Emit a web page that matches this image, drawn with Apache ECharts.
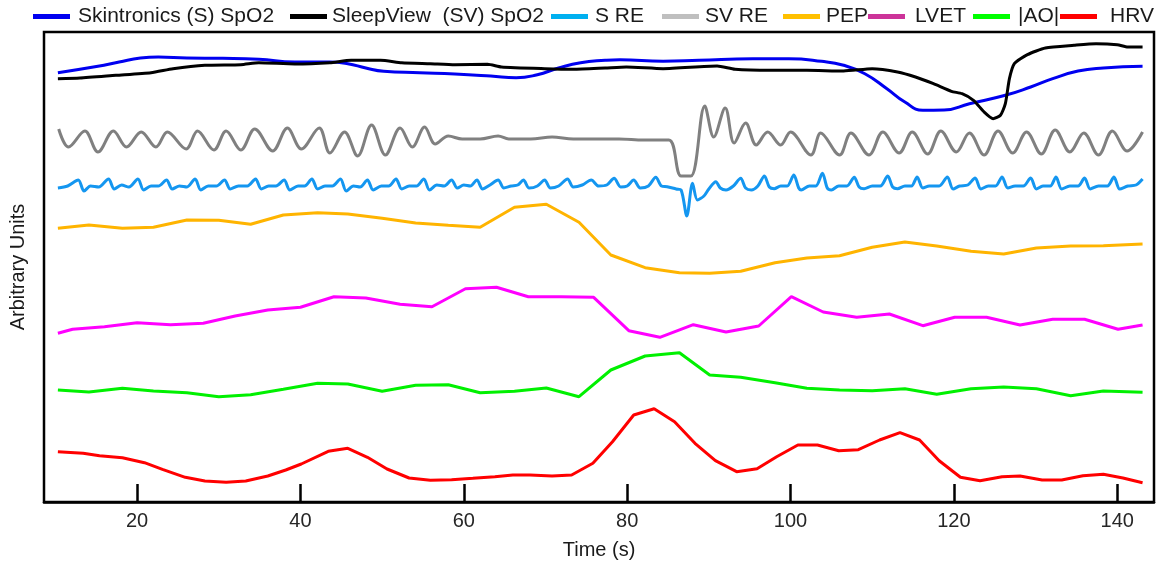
<!DOCTYPE html>
<html>
<head>
<meta charset="utf-8">
<title>Skintronics vs SleepView</title>
<script src="https://cdn.jsdelivr.net/npm/echarts@6/dist/echarts.min.js"></script>
<style>
  html, body { margin: 0; padding: 0; background: #fff; }
  #chart { width: 1159px; height: 567px; }
</style>
</head>
<body>
<div id="chart"></div>
<script>
// Time axis (s) tick labels
const timeTicks = [20, 40, 60, 80, 100, 120, 140];

// Series names (legend order)
const names = ['Skintronics (S) SpO2', 'SleepView  (SV) SpO2', 'S RE', 'SV RE', 'PEP', 'LVET', '|AO|', 'HRV'];

// SpO2 traces (arbitrary units, stacked offsets)
const sSpo2T = [10.3, 15.2, 17.8, 20.4, 22.6, 26.1, 30.5, 34.9, 39.3, 43.6, 45.8, 48, 50.2, 54.6, 58.9, 63.3, 66.4, 69, 71.6, 74.3, 77.3,
  79.1, 84.4, 88.8, 95.4, 99.8, 103.8, 106.5, 109.1, 111.8, 114, 116.2, 118.8, 121.9, 126.3, 129.4, 132.1, 135.2, 138.3, 143.1];
const sSpo2V = [429.3, 435.7, 440, 444, 445, 444, 443.7, 442.7, 440, 440, 438.3, 434, 430.7, 429.3, 428, 426, 424.3, 427.3, 434, 439.3, 441.7,
  442.3, 440.7, 441.7, 443.3, 443.3, 440.7, 436.7, 428.3, 413.3, 400, 391.7, 392, 398.3, 406.7, 415, 423.3, 431, 434, 435.7];

const svSpo2T = [10.3, 13, 17.4, 21.7, 24.4, 28.3, 32.7, 34.9, 39.3, 43.6, 46.2, 49.8, 52.4, 55.9, 58.9, 62.9, 64.6, 69.9, 73.4, 77.3,
  79.9, 84.4, 91, 93.2, 97.6, 102, 106.5, 110, 113.1, 115.3, 117.5, 119.7, 121, 122.4, 123.7, 124.8, 125.7, 126.3, 126.8, 127.4, 129, 131.2, 134.7, 137.4, 140, 141.3, 143.1];
const svSpo2V = [423.3, 424, 426.7, 429.3, 433.3, 436.7, 437.3, 439.3, 438, 439.3, 441.7, 441.7, 439.3, 438.3, 437.3, 437.7, 435, 433.3, 432.7, 434,
  435, 433.3, 436, 432.7, 431.7, 431.7, 431, 433.3, 430, 425, 418.3, 410.7, 408.3, 401.7, 390, 383.3, 386.7, 398.3, 423.3, 438.3, 447.3, 454, 456.7, 458.3, 457.3, 455, 455];

// Respiratory effort traces [t, value]
const svRe = [[10.4,373],[11.6,355],[13.6,371],[15.2,350],[17.1,371],[18.7,355],[20.5,370],[22.3,355],[23.7,370],[26,353],[27.4,371],[29.4,352],
  [30.9,371],[32.7,352],[34.4,373],[36.6,351],[38.4,374],[40.1,353],[42.3,374],[43.6,349],[45.4,370],[47,346],[48.7,377],[50.4,347],[52.2,374],
  [53.7,355],[55.2,375],[56.5,358],[58.1,366],[59.8,363],[62,363],[64.2,366],[65.5,363],[68.2,363],[70.8,365],[73.4,363],[76,363],[79,363],
  [82,362],[85.1,362],[86.6,326],[87.8,326],[89.5,396],[90.6,365],[92,394],[93.1,359],[94.5,379],[95.8,357],[97.2,370],[98.8,357],[100,370],
  [102.5,347],[103.7,369],[106,347],[107.4,369],[109.6,347],[111.3,370],[113.3,349],[114.9,370],[116.8,348],[118.4,371],[120.3,350],[121.9,369],
  [123.7,347],[125.4,371],[127.2,349],[128.9,370],[130.7,348],[132.4,372],[134.2,350],[135.9,369],[137.7,347],[139.4,371],[141.2,351],[143.1,370]];

const sRe = [[10.3,314],[11.5,316],[12.8,322],[13.5,311],[14.3,316],[15.3,315],[16.5,323],[17.2,313],[18.1,317],[19,315],[20.1,323],[20.8,312],
  [21.7,316],[22.6,316],[23.6,322],[24.3,313],[25.2,316],[26.1,315],[27.1,323],[27.8,312],[28.7,316],[29.7,316],[30.7,322],[31.4,313],[32.4,316],
  [33.5,316],[34.5,323],[35.2,313],[36.1,316],[37,316],[38,322],[38.7,312],[39.7,316],[40.5,316],[41.4,323],[42.1,313],[43,316],[43.9,316],
  [44.9,323],[45.6,311],[46.5,316],[47.3,315],[48.2,322],[48.9,312],[49.9,316],[50.8,316],[51.7,323],[52.4,313],[53.3,316],[54.2,316],[55.1,323],
  [55.8,312],[56.7,317],[57.6,316],[58.5,322],[59.2,314],[60,317],[60.8,316],[61.6,322],[62.3,313],[63.2,317],[64.2,322],[64.9,314],[65.8,316],
  [66.6,317],[67.3,322],[68,314],[69,316],[69.9,322],[70.6,314],[71.6,316],[72.7,323],[73.4,315],[74.5,317],[75.6,322],[76.5,316],[77.5,317],
  [78.4,323.7],[79.2,315],[80,316],[80.8,322],[81.6,314],[82.6,316],[83.5,324.7],[84.2,316],[84.9,315.3],[86,313],[86.6,312],[87.3,286],[88,318.7],
  [88.6,302],[89.4,306],[90,313],[90.85,320.3],[91.4,314],[92.1,312],[93,316],[93.9,323.7],[94.5,314],[95.2,312],[96,316],[96.8,326],[97.4,315],
  [98,313.3],[98.8,316],[99.6,316],[100.4,327],[101,314],[101.3,312],[102.3,316],[103.1,316],[103.9,328.7],[104.5,314],[105,312],[105.9,316],
  [106.9,316],[107.8,324.7],[108.4,315],[109,313.3],[110,316],[111,316],[111.9,326],[112.5,315],[113.1,313.3],[114,316],[114.8,316],[115.5,325],
  [116.2,314],[117,316],[118.2,316],[119.2,325],[119.9,313],[120.7,316],[121.7,317],[122.6,324],[123.3,313],[124.2,316],[125.1,316],[125.9,325],
  [126.6,314],[127.5,316],[128.5,316],[129.4,324],[130.1,313],[130.9,316],[131.8,316],[132.5,325],[133.2,313],[134.2,316],[135.2,316],[136,324],
  [136.7,313],[137.7,316],[138.8,316],[139.6,325],[140.3,313],[141.3,316],[142.3,317],[143.1,323]];

// Cardiac interval traces
const pepT = [10.3, 14.1, 18.2, 22, 26.1, 30, 33.9, 37.9, 42.1, 45.8, 50, 54.1, 58.1, 62, 66.2, 70.1, 74.1,
  78, 82.2, 86.4, 90.1, 93.9, 98.1, 102, 106, 110, 114, 117.9, 122.1, 126.1, 130.1, 134.3, 138.3, 143.1];
const pepV = [273.7, 277, 273.7, 274.7, 282, 281.7, 277.7, 287, 289.3, 288, 283.7, 279, 276.7, 274.7, 294.7, 297.7, 279.7,
  247, 234.3, 229.3, 228.7, 230.7, 239.3, 244, 246.3, 254.7, 260, 256, 250.7, 248, 254, 256, 256.3, 258];

const lvetT = [10.3, 12.1, 16, 20, 24.1, 28.1, 32, 36, 40, 44.1, 48, 52.2, 56.1, 60.2, 64, 67.9, 71.9, 75.9,
  80.2, 84, 88.1, 92.1, 96.1, 100.1, 104, 108.1, 112.1, 116.2, 120.1, 124, 128.1, 132.1, 136, 140.1, 143.1];
const lvetV = [168.7, 172.7, 175.3, 179.3, 177.3, 178.7, 186, 192, 194.7, 205.3, 204, 197.7, 195.3, 213.3, 214.7, 205.3, 205.3, 204.7,
  171.3, 164.7, 177.3, 170, 176, 205.3, 190, 184.7, 188, 176.3, 184.7, 184.7, 177, 182.7, 182.7, 172.7, 177];

const aoT = pepT;
const aoV = [112, 110, 113.7, 111, 109.3, 105.3, 107.3, 112.7, 118.7, 118, 110.7, 116.7, 117.3, 109.3, 110.7, 114, 105.3,
  132, 146, 149.3, 127, 124.7, 119.3, 113.7, 112, 111.3, 113.3, 107.7, 113.3, 115, 113.3, 106.3, 111, 109.7];

const hrvT = [10.3, 13.4, 15.4, 18.2, 20.9, 23.1, 25.9, 28.3, 30.9, 33.3, 36, 38.2, 40.1, 43.4, 45.8, 48.2, 50.6, 53.3, 55.9, 58.5, 61.1, 63.8, 66, 68.1, 70.8, 73.2, 75.8,
  78.2, 80.8, 83.3, 85.8, 88.3, 90.8, 93.4, 95.9, 98.3, 100.9, 103.3, 105.9, 108.3, 110.9, 113.4, 115.8, 118.2, 120.8, 123.2, 125.9, 128.1, 130.8, 133.2, 135.8, 138.3, 140.7, 143.1];
const hrvV = [50.3, 48.7, 46.3, 44.3, 39.3, 32.7, 24.7, 21, 19.7, 21, 26, 32, 38, 50.7, 53.7, 44.7, 33, 24, 21.7, 22.3, 23.7, 25.3, 27, 27, 26, 27, 38.7,
  60.3, 87, 93.3, 80.3, 58.7, 41.3, 30.3, 33.3, 45.3, 57, 57, 51.3, 52.3, 62, 69.3, 62, 41.3, 24.7, 21.3, 25.3, 26, 22, 22, 26.3, 27.7, 24, 19.3];

const zip = (t, v) => t.map((x, i) => [x, v[i]]);

const lineColors = ['#0000f0', '#000000', '#1496f0', '#808080', '#ffb400', '#ff00ff', '#00f000', '#ff0000'];
const legendColors = ['#0000f0', '#000000', '#00b0f0', '#bfbfbf', '#ffc000', '#cc3399', '#00ff00', '#ff0000'];
const legendLeft = [33, 290, 551, 662, 783, 868, 973, 1060];
const legendTextPad = [3, 0, 2, 1, 1, 5, 3, 8];

const seriesData = [
  zip(sSpo2T, sSpo2V),
  zip(svSpo2T, svSpo2V),
  sRe,
  svRe,
  zip(pepT, pepV),
  zip(lvetT, lvetV),
  zip(aoT, aoV),
  zip(hrvT, hrvV)
];
const smoothing = [0.5, 0.2, 0.3, 0.35, false, false, false, false];

const FONT = 'Liberation Sans, Arial, sans-serif';

const chart = echarts.init(document.getElementById('chart'), null, { renderer: 'canvas' });
chart.setOption({
  animation: false,
  backgroundColor: '#ffffff',
  textStyle: { fontFamily: FONT },
  legend: names.map((n, i) => ({
    left: legendLeft[i],
    top: 6,
    padding: 0,
    icon: 'rect',
    itemWidth: 37,
    itemHeight: 5,
    selectedMode: false,
    textStyle: { fontSize: 21, color: '#1a1a1a', fontFamily: FONT, padding: [0, 0, 0, legendTextPad[i]] },
    data: [{ name: n, itemStyle: { color: legendColors[i] } }]
  })),
  grid: {
    left: 44, right: 5, top: 32, bottom: 65,
    show: true, borderColor: '#000', borderWidth: 2.5, backgroundColor: 'transparent'
  },
  xAxis: {
    type: 'value',
    min: 8.6,
    max: 144.5,
    name: 'Time (s)',
    nameLocation: 'middle',
    nameGap: 38,
    nameTextStyle: { fontSize: 20, color: '#1a1a1a', fontFamily: FONT },
    axisLine: { show: true, lineStyle: { color: '#000', width: 2.5 } },
    axisTick: { show: true, inside: true, length: 18, customValues: timeTicks, lineStyle: { color: '#000', width: 2.5 } },
    axisLabel: { show: true, customValues: timeTicks, fontSize: 20, color: '#262626', margin: 9, fontFamily: FONT },
    splitLine: { show: false }
  },
  yAxis: {
    type: 'value',
    min: 0,
    max: 470,
    name: 'Arbitrary Units',
    nameLocation: 'middle',
    nameGap: 16,
    nameTextStyle: { fontSize: 20, color: '#1a1a1a', fontFamily: FONT },
    axisLine: { show: false },
    axisTick: { show: false },
    axisLabel: { show: false },
    splitLine: { show: false }
  },
  series: names.map((n, i) => ({
    name: n,
    type: 'line',
    data: seriesData[i],
    showSymbol: false,
    symbol: 'none',
    smooth: smoothing[i],
    color: lineColors[i],
    lineStyle: { color: lineColors[i], width: 3 },
    itemStyle: { color: lineColors[i] },
    z: 2
  }))
});
</script>
</body>
</html>
